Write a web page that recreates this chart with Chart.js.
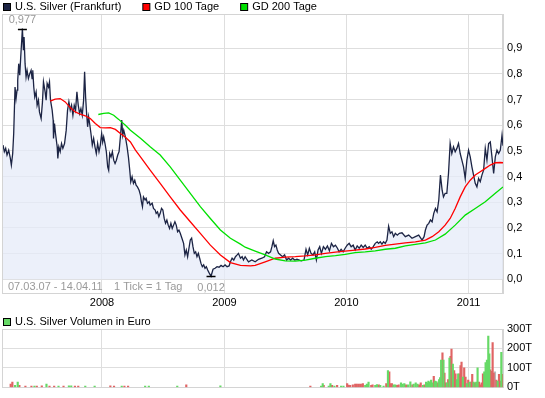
<!DOCTYPE html>
<html>
<head>
<meta charset="utf-8">
<script src="https://cdn.jsdelivr.net/npm/chart.js@4.4.1/dist/chart.umd.min.js"></script>
<style>
  body { margin: 0; background: #fff; }
  #wrap { position: relative; width: 545px; height: 398px; }
  .box { position: absolute; left: 0; width: 545px; }
</style>
</head>
<body>
<div id="wrap">
  <div class="box" style="top:0;height:310px"><canvas id="chart-price"></canvas></div>
  <div class="box" style="top:310px;height:88px"><canvas id="chart-volume"></canvas></div>
</div>
<script>
// days counted from 07.03.07
const rangeText = '07.03.07 - 14.04.11';
const tickText = '1 Tick = 1 Tag';
const yearDays = [300, 666, 1031, 1396];
const yearLabels = ['2008', '2009', '2010', '2011'];
const priceTicks = [0, 0.1, 0.2, 0.3, 0.4, 0.5, 0.6, 0.7, 0.8, 0.9];
const volumeTicks = [0, 100, 200, 300];

const priceLabel = 'U.S. Silver (Frankfurt)';
const gd100Label = 'GD 100 Tage';
const gd200Label = 'GD 200 Tage';
const volumeLabel = 'U.S. Silver Volumen in Euro';

// Kurs
const priceDays = [
  4,8,12,16,21,26,29,33,36,40,
  43,46,48,51,54,57,60,62,65,67,
  70,73,76,80,84,88,91,93,96,99,
  103,106,110,113,118,122,125,130,133,136,
  140,143,146,151,154,155,158,161,166,168,
  171,175,179,183,188,193,197,201,205,209,
  213,217,221,225,229,233,237,241,245,248,
  251,254,257,260,263,267,271,275,279,283,
  287,291,295,299,302,305,309,313,317,320,
  323,327,331,335,339,343,347,351,355,359,
  362,365,370,375,379,383,386,390,394,398,
  402,406,411,415,418,421,424,429,432,436,
  441,444,450,454,459,462,466,470,474,478,
  482,486,490,494,498,502,506,510,514,518,
  522,526,530,534,539,544,548,552,556,560,
  564,568,572,576,580,584,588,592,596,600,
  604,608,612,616,620,626,632,638,644,650,
  656,662,668,674,680,684,689,694,699,704,
  708,714,719,723,728,738,748,758,768,778,
  786,792,798,804,808,812,816,820,824,828,
  834,840,846,852,858,864,870,876,883,890,
  896,904,910,915,920,925,931,936,941,946,
  951,956,962,968,974,980,986,992,998,1004,
  1009,1015,1021,1027,1033,1039,1045,1051,1057,1063,
  1069,1075,1081,1087,1093,1099,1105,1111,1117,1123,
  1127,1132,1137,1142,1147,1152,1157,1162,1167,1172,
  1177,1183,1189,1197,1207,1217,1227,1237,1247,1257,
  1263,1267,1272,1277,1282,1287,1292,1297,1302,1307,
  1312,1317,1321,1326,1331,1336,1341,1346,1351,1356,
  1361,1366,1371,1376,1381,1386,1391,1396,1401,1406,
  1411,1416,1421,1426,1431,1436,1441,1446,1451,1456,
  1461,1466,1471,1476,1481,1486,1491,1496,1499
];
const price = [
  0.523,0.497,0.51,0.484,0.503,0.471,0.445,0.49,0.568,0.749,
  0.704,0.737,0.775,0.84,0.795,0.866,0.931,0.977,0.892,0.944,
  0.84,0.788,0.814,0.782,0.801,0.814,0.782,0.814,0.749,0.71,
  0.73,0.678,0.698,0.652,0.626,0.691,0.769,0.73,0.698,0.763,
  0.749,0.769,0.698,0.659,0.62,0.549,0.607,0.568,0.516,0.471,
  0.516,0.497,0.529,0.51,0.529,0.581,0.659,0.691,0.659,0.678,
  0.639,0.678,0.659,0.73,0.678,0.646,0.665,0.639,0.698,0.808,
  0.71,0.646,0.594,0.633,0.607,0.568,0.523,0.549,0.516,0.49,
  0.529,0.497,0.523,0.568,0.535,0.555,0.529,0.497,0.438,0.425,
  0.49,0.477,0.497,0.464,0.451,0.464,0.484,0.497,0.555,0.62,
  0.561,0.581,0.555,0.516,0.477,0.425,0.38,0.399,0.374,0.386,
  0.367,0.36,0.347,0.328,0.302,0.283,0.321,0.309,0.315,0.296,
  0.302,0.289,0.296,0.276,0.27,0.257,0.263,0.244,0.257,0.276,
  0.27,0.237,0.218,0.231,0.211,0.198,0.218,0.198,0.211,0.224,
  0.211,0.185,0.192,0.179,0.16,0.14,0.095,0.114,0.088,0.121,
  0.153,0.16,0.127,0.101,0.107,0.088,0.101,0.082,0.062,0.049,
  0.056,0.043,0.049,0.036,0.026,0.012,0.039,0.043,0.049,0.047,
  0.054,0.049,0.056,0.049,0.052,0.068,0.082,0.075,0.088,0.095,
  0.101,0.082,0.088,0.075,0.088,0.068,0.075,0.068,0.078,0.082,
  0.088,0.107,0.101,0.107,0.127,0.15,0.127,0.133,0.114,0.101,
  0.095,0.088,0.095,0.075,0.082,0.075,0.082,0.075,0.078,0.075,
  0.072,0.075,0.117,0.095,0.121,0.101,0.095,0.107,0.075,0.114,
  0.127,0.101,0.127,0.117,0.13,0.111,0.14,0.127,0.133,0.121,
  0.107,0.117,0.107,0.121,0.133,0.14,0.127,0.133,0.114,0.13,
  0.121,0.133,0.124,0.133,0.121,0.127,0.117,0.127,0.14,0.146,
  0.14,0.146,0.137,0.146,0.14,0.153,0.207,0.179,0.185,0.166,
  0.179,0.172,0.179,0.181,0.166,0.172,0.16,0.166,0.172,0.153,
  0.166,0.192,0.211,0.218,0.231,0.224,0.257,0.276,0.263,0.309,
  0.406,0.347,0.321,0.335,0.335,0.412,0.529,0.49,0.516,0.497,
  0.51,0.529,0.49,0.464,0.438,0.393,0.464,0.503,0.477,0.438,
  0.406,0.374,0.36,0.393,0.38,0.406,0.425,0.51,0.464,0.529,
  0.535,0.477,0.412,0.477,0.503,0.49,0.503,0.561,0.52
];

// GD 100
const gd100Days = [
  145,160,175,190,205,220,235,250,265,280,
  295,310,325,340,355,370,385,400,415,444,
  474,504,534,564,594,624,654,684,714,744,
  758,788,818,848,878,908,938,968,998,1027,
  1057,1087,1117,1147,1177,1207,1237,1267,1287,1307,
  1326,1341,1356,1371,1386,1401,1416,1431,1446,1461,
  1476,1491,1499
];
const gd100 = [
  0.694,0.702,0.704,0.691,0.669,0.652,0.643,0.637,0.626,0.607,
  0.591,0.59,0.591,0.584,0.568,0.553,0.535,0.503,0.477,0.425,
  0.374,0.321,0.27,0.224,0.179,0.133,0.095,0.065,0.054,0.052,
  0.054,0.068,0.082,0.086,0.088,0.091,0.095,0.101,0.106,0.11,
  0.114,0.118,0.124,0.132,0.137,0.142,0.146,0.153,0.166,0.185,
  0.211,0.237,0.276,0.321,0.36,0.386,0.406,0.419,0.432,0.445,
  0.454,0.455,0.454
];

// GD 200
const gd200Days = [
  289,305,320,335,350,370,385,415,444,474,
  504,534,564,594,624,654,684,714,728,758,
  788,818,848,878,908,938,968,998,1027,1057,
  1087,1117,1147,1177,1207,1237,1267,1297,1326,1356,
  1386,1416,1446,1476,1499
];
const gd200 = [
  0.642,0.646,0.648,0.639,0.623,0.6,0.581,0.549,0.516,0.484,
  0.438,0.386,0.335,0.283,0.237,0.192,0.16,0.137,0.125,0.11,
  0.095,0.079,0.072,0.071,0.075,0.082,0.088,0.092,0.097,0.104,
  0.107,0.111,0.117,0.121,0.13,0.136,0.142,0.153,0.176,0.211,
  0.25,0.276,0.302,0.335,0.36
];

// Volumen in Tausend Euro (gruen = steigend, rot = fallend)
const volUpDays = [
  40,48,98,134,170,201,208,250,278,359,
  429,440,525,654,955,960,978,983,995,1015,
  1022,1087,1092,1097,1117,1122,1132,1142,1155,1172,
  1177,1194,1199,1204,1215,1222,1232,1238,1243,1260,
  1269,1272,1276,1280,1284,1288,1296,1300,1308,1311,
  1314,1321,1331,1339,1349,1361,1365,1379,1391,1399,
  1411,1419,1423,1443,1447,1451,1455,1458,1483,1494
];
const volUp = [
  10,27,7,17,7,8,8,7,7,7,
  7,7,7,8,7,20,7,20,7,7,
  7,10,17,27,10,15,10,7,87,13,
  13,23,17,20,13,28,17,23,17,10,
  27,23,33,27,37,23,33,30,40,50,
  140,140,23,150,120,40,70,53,20,27,
  27,27,100,80,128,140,263,173,33,180
];
const volDownDays = [
  27,32,53,71,89,105,120,143,157,185,
  219,229,325,336,367,378,552,923,963,988,
  1003,1033,1037,1042,1050,1057,1062,1068,1074,1080,
  1105,1109,1128,1150,1159,1162,1167,1182,1187,1209,
  1228,1248,1253,1264,1292,1304,1318,1324,1327,1335,
  1342,1345,1353,1357,1369,1372,1375,1383,1387,1395,
  1403,1407,1415,1427,1431,1435,1439,1461,1465,1468,
  1471,1479,1487,1491,1498
];
const volDown = [
  17,27,10,7,7,7,8,7,7,7,
  7,7,8,7,7,7,13,7,10,10,
  10,20,12,10,13,17,17,17,17,20,
  10,13,13,20,80,20,20,10,13,13,
  13,13,23,13,57,23,177,73,23,40,
  160,197,87,70,70,112,130,100,53,37,
  27,67,23,27,13,23,70,90,83,230,
  73,37,67,33,67
];
const volFlatDays = [1475];
const volFlat = [80];

const FONT = { family: '"Liberation Sans", Arial, sans-serif', size: 11 };
const gridColor = '#dedede';
const navy = '#1c2444';
const red = '#ff0000';
const green = '#00e000';

const pts = (days, vals) => days.map((d, i) => ({ x: d, y: vals[i] }));
const comma = (v, n) => v.toFixed(n).replace('.', ',');

// rahmen um die zeichenflaeche
const framePlugin = {
  id: 'frame',
  beforeDatasetsDraw(chart) {
    const a = chart.chartArea, ctx = chart.ctx;
    ctx.save();
    ctx.strokeStyle = '#d4d4d4';
    ctx.lineWidth = 1;
    ctx.strokeRect(Math.round(a.left) - 0.5, Math.round(a.top) + 0.5,
      Math.round(a.right - a.left), Math.round(a.bottom - a.top));
    ctx.restore();
  }
};

// legende mit kleinen kaestchen
const boxLegend = {
  id: 'boxLegend',
  afterDraw(chart, args, opts) {
    const ctx = chart.ctx;
    ctx.save();
    ctx.font = FONT.size + 'px ' + FONT.family;
    ctx.textBaseline = 'middle';
    let x = opts.x;
    opts.items.forEach(it => {
      ctx.fillStyle = it.color;
      ctx.fillRect(x + 0.5, opts.y + 0.5, 7, 7);
      ctx.strokeStyle = '#000';
      ctx.lineWidth = 1;
      ctx.strokeRect(x + 0.5, opts.y + 0.5, 7, 7);
      ctx.fillStyle = '#000';
      ctx.fillText(it.label, x + 12, opts.y + 4);
      x += 12 + ctx.measureText(it.label).width + opts.gap;
    });
    ctx.restore();
  }
};

// hoch / tief markieren + fusszeile
const extremaPlugin = {
  id: 'extrema',
  afterDatasetsDraw(chart) {
    const ctx = chart.ctx, xs = chart.scales.x, ys = chart.scales.y, a = chart.chartArea;
    const hi = price.indexOf(Math.max(...price));
    const lo = price.indexOf(Math.min(...price));
    ctx.save();
    ctx.font = FONT.size + 'px ' + FONT.family;
    ctx.textBaseline = 'middle';
    [[hi, -10], [lo, 11]].forEach(([i, dy]) => {
      const px = xs.getPixelForValue(priceDays[i]);
      const py = Math.round(ys.getPixelForValue(price[i])) + 0.5;
      ctx.strokeStyle = '#000';
      ctx.lineWidth = 1.5;
      ctx.beginPath();
      ctx.moveTo(px - 4.5, py);
      ctx.lineTo(px + 4.5, py);
      ctx.stroke();
      ctx.fillStyle = '#9a9a9a';
      ctx.textAlign = 'center';
      ctx.fillText(comma(price[i], 3), px, py + dy);
    });
    ctx.textAlign = 'left';
    ctx.fillStyle = '#9a9a9a';
    ctx.fillText(rangeText, a.left + 5, a.bottom - 6);
    ctx.fillText(tickText, a.left + 111, a.bottom - 6);
    ctx.restore();
  }
};

const xScale = (showLabels, h) => ({
  type: 'linear',
  min: 4,
  max: 1499,
  offset: false,
  afterBuildTicks: s => { s.ticks = yearDays.map(v => ({ value: v })); },
  afterFit: s => { s.height = h; },
  ticks: {
    display: showLabels,
    autoSkip: false,
    maxRotation: 0,
    padding: 3,
    color: '#000',
    font: FONT,
    callback: (v, i) => yearLabels[i]
  },
  grid: { color: gridColor, drawTicks: false, offset: false },
  border: { color: '#d4d4d4' }
});

const priceConfig = {
  type: 'line',
  data: {
    datasets: [
      {
        label: priceLabel,
        data: pts(priceDays, price),
        borderColor: navy,
        borderWidth: 1.3,
        backgroundColor: 'rgba(230,235,248,0.75)',
        fill: { value: 0 },
        pointRadius: 0,
        order: 3
      },
      {
        label: gd100Label,
        data: pts(gd100Days, gd100),
        borderColor: red,
        borderWidth: 1.3,
        pointRadius: 0,
        fill: false,
        order: 2
      },
      {
        label: gd200Label,
        data: pts(gd200Days, gd200),
        borderColor: green,
        borderWidth: 1.3,
        pointRadius: 0,
        fill: false,
        order: 1
      }
    ]
  },
  options: {
    responsive: true,
    maintainAspectRatio: false,
    animation: false,
    layout: { padding: { left: 3, top: 14, right: 0, bottom: 0 } },
    plugins: {
      legend: { display: false },
      tooltip: { enabled: false },
      boxLegend: {
        x: 3, y: 3, gap: 21,
        items: [
          { label: priceLabel, color: navy },
          { label: gd100Label, color: red },
          { label: gd200Label, color: green }
        ]
      }
    },
    scales: {
      x: xScale(true, 17),
      y: {
        position: 'right',
        min: -0.0534,
        max: 1.0335,
        afterBuildTicks: s => { s.ticks = priceTicks.map(v => ({ value: v })); },
        afterFit: s => { s.width = 42; },
        ticks: { padding: 4, color: '#000', font: FONT, callback: v => comma(v, 1) },
        grid: { color: gridColor, drawTicks: false },
        border: { color: '#d4d4d4' }
      }
    }
  },
  plugins: [framePlugin, boxLegend, extremaPlugin]
};

const barSet = (label, days, vals, color) => ({
  label: label,
  data: pts(days, vals),
  backgroundColor: color,
  borderWidth: 0,
  barThickness: 1.5,
  grouped: false
});

const volumeConfig = {
  type: 'bar',
  data: {
    datasets: [
      barSet('steigend', volUpDays, volUp, '#66d966'),
      barSet('fallend', volDownDays, volDown, '#e06464'),
      barSet('unveraendert', volFlatDays, volFlat, '#b8b8b8')
    ]
  },
  options: {
    responsive: true,
    maintainAspectRatio: false,
    animation: false,
    layout: { padding: { left: 3, top: 19, right: 0, bottom: 0 } },
    plugins: {
      legend: { display: false },
      tooltip: { enabled: false },
      boxLegend: {
        x: 3, y: 8, gap: 20,
        items: [{ label: volumeLabel, color: '#66d966' }]
      }
    },
    scales: {
      x: xScale(false, 9),
      y: {
        position: 'right',
        min: 0,
        max: 300,
        afterBuildTicks: s => { s.ticks = volumeTicks.map(v => ({ value: v })); },
        afterFit: s => { s.width = 42; },
        ticks: { padding: 4, color: '#000', font: FONT, callback: v => v + 'T' },
        grid: { color: gridColor, drawTicks: false },
        border: { color: '#d4d4d4' }
      }
    }
  },
  plugins: [framePlugin, boxLegend]
};

const chart_price = new Chart(document.getElementById('chart-price'), priceConfig);
const chart_volume = new Chart(document.getElementById('chart-volume'), volumeConfig);
</script>
</body>
</html>
